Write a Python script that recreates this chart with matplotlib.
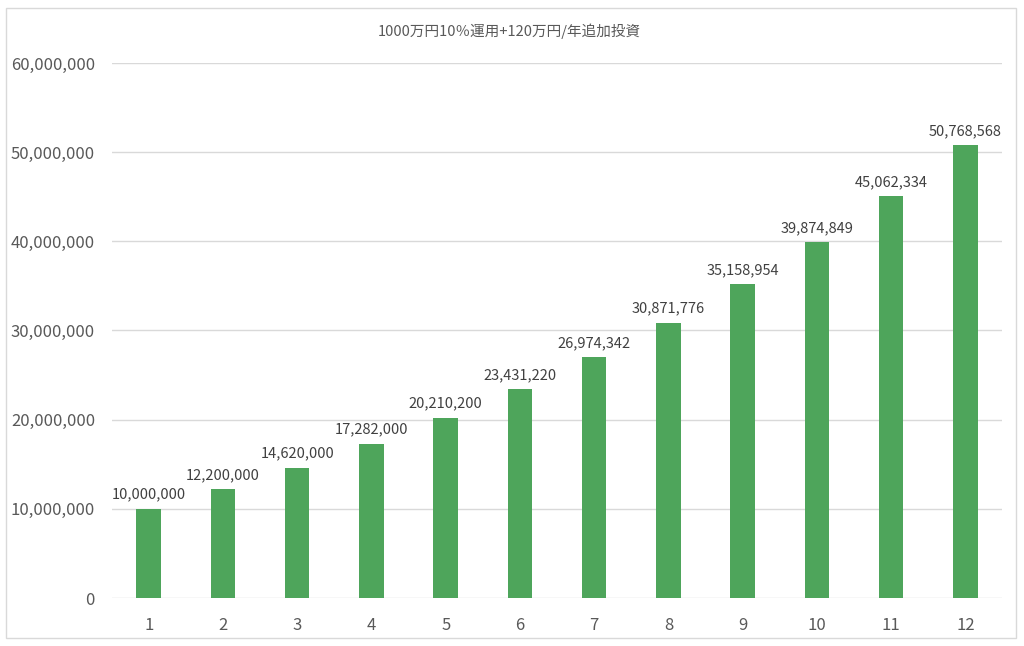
import matplotlib.pyplot as plt
from matplotlib.patches import Rectangle
from matplotlib.ticker import FuncFormatter

plt.rcParams['font.family'] = ['Noto Sans CJK JP', 'DejaVu Sans']

years = [1, 2, 3, 4, 5, 6, 7, 8, 9, 10, 11, 12]
values = [10000000, 12200000, 14620000, 17282000, 20210200, 23431220,
          26974342, 30871776, 35158954, 39874849, 45062334, 50768568]
title = '1000万円10％運用+120万円/年追加投資'

fig = plt.figure(figsize=(10.24, 6.46), dpi=100)
fig.patches.append(Rectangle((0.006, 0.012), 0.986, 0.975, transform=fig.transFigure,
                             fill=False, edgecolor='#d9d9d9', linewidth=1))
ax = fig.add_axes([0.109, 0.0743, 0.870, 0.8282])

bars = ax.bar(years, values, width=0.33, color='#4ea55b', zorder=3)
for x, v in zip(years, values):
    ax.text(x, v + 800000, f'{v:,}', ha='center', va='bottom', fontsize=10.5, color='#404040')

ax.set_xlim(0.5, 12.5)
ax.set_ylim(0, 60000000)
ax.set_yticks(range(0, 60000001, 10000000))
ax.yaxis.set_major_formatter(FuncFormatter(lambda v, p: f'{int(v):,}'))
ax.set_xticks(years)
ax.grid(axis='y', color='#d9d9d9', linewidth=1, zorder=0)
for s in ax.spines.values():
    s.set_visible(False)
ax.tick_params(length=0, labelsize=12, labelcolor='#595959', pad=14)
ax.tick_params(axis='y', pad=12)

fig.text(0.497, 0.952, title, ha='center', va='center', fontsize=10.5, color='#595959')

fig.savefig('out.png', dpi=100)
